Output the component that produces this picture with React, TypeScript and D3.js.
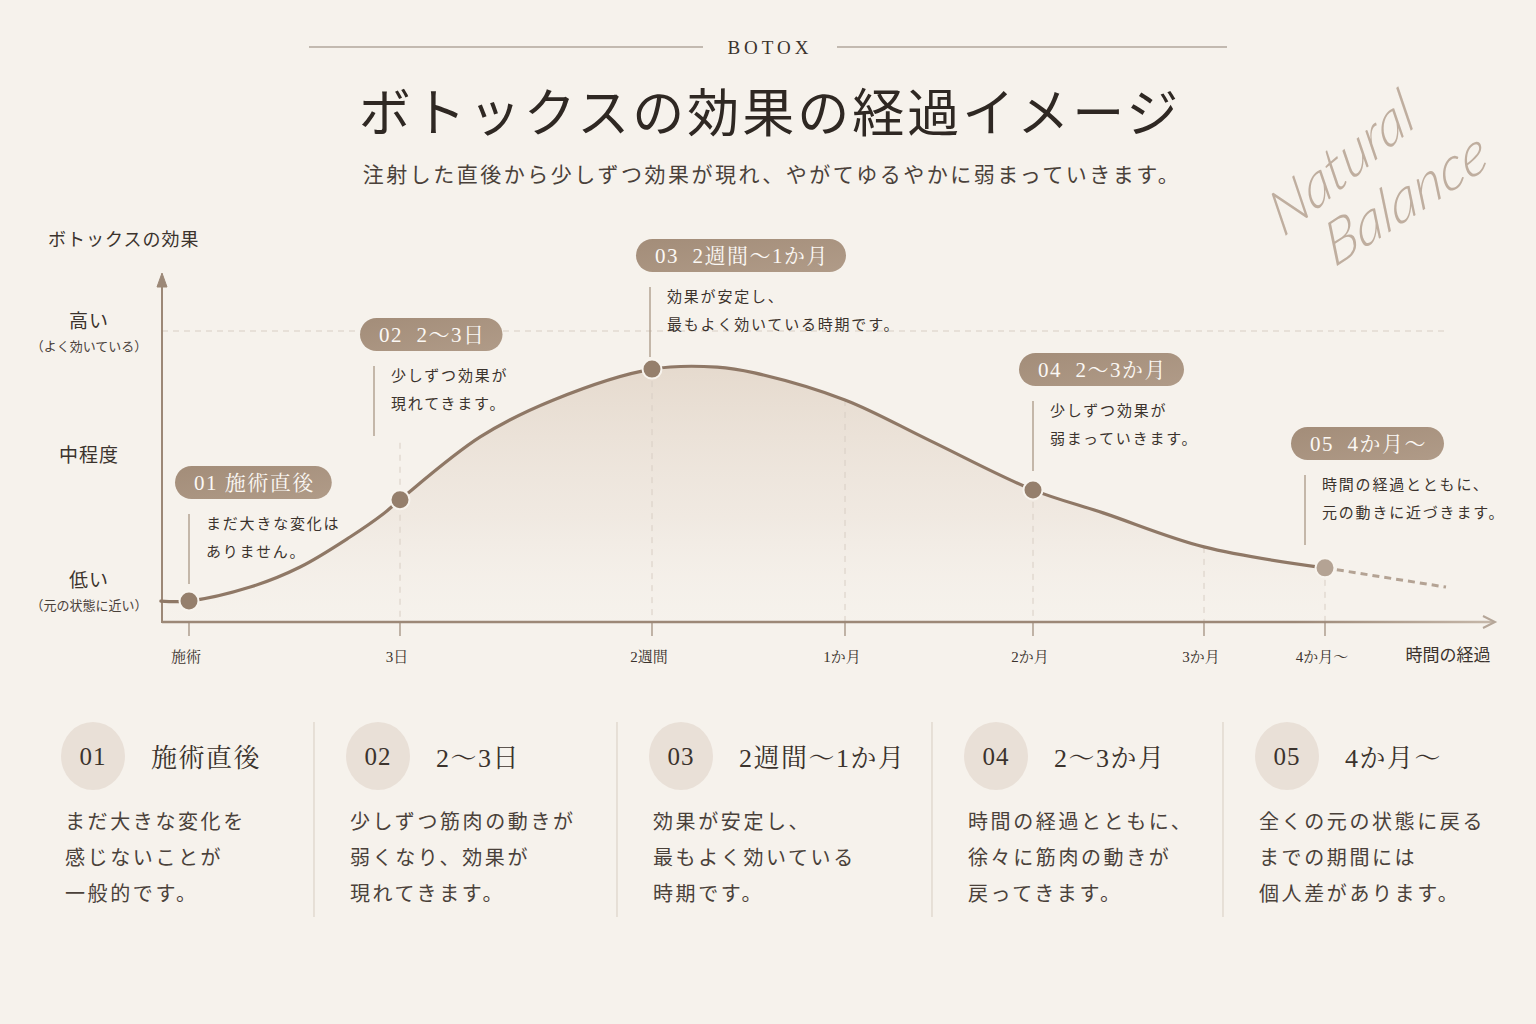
import React, { useEffect, useRef } from "react";
import * as d3 from "d3";

const W = 1536;
const H = 1024;

// ---------- data ----------
const tickDays = [0, 3, 14, 30, 60, 90, 120];
const tickLabels = ["施術", "3日", "2週間", "1か月", "2か月", "3か月", "4か月〜"];

const curveDays = [-0.4, 0, 0.87, 1.58, 2.29, 2.76, 3, 6.5, 9.7, 14, 19.4, 22.5, 30, 43.4, 60, 72.3, 90, 120];
const curveValues = [7.2, 7.2, 12.0, 18.9, 29.2, 37.1, 42.0, 63.6, 76.3, 86.9, 87.6, 85.6, 76.3, 62.5, 45.4, 37.5, 25.8, 18.6];
const tailDays = [120, 150];
const tailValues = [18.6, 12.0];

const stageDays = [0, 3, 14, 60, 120];
const stageNums = ["01", "02", "03", "04", "05"];
const stageTitles = ["施術直後", "2〜3日", "2週間〜1か月", "2〜3か月", "4か月〜"];
const pillLabels = ["01 施術直後", "02  2〜3日", "03  2週間〜1か月", "04  2〜3か月", "05  4か月〜"];
const calloutTexts = [
  ["まだ大きな変化は", "ありません。"],
  ["少しずつ効果が", "現れてきます。"],
  ["効果が安定し、", "最もよく効いている時期です。"],
  ["少しずつ効果が", "弱まっていきます。"],
  ["時間の経過とともに、", "元の動きに近づきます。"],
];
const panelBodies = [
  ["まだ大きな変化を", "感じないことが", "一般的です。"],
  ["少しずつ筋肉の動きが", "弱くなり、効果が", "現れてきます。"],
  ["効果が安定し、", "最もよく効いている", "時期です。"],
  ["時間の経過とともに、", "徐々に筋肉の動きが", "戻ってきます。"],
  ["全くの元の状態に戻る", "までの期間には", "個人差があります。"],
];

const yLevelLabels = ["高い", "中程度", "低い"];
const yLevelSubs = ["（よく効いている）", "", "（元の状態に近い）"];
const yLevelValues = [100, 57.4, 11];

// ---------- layout ----------
const tickX = [189, 400, 652, 845, 1033, 1204, 1325, 1446];
const plotLeft = 162;
const plotRight = 1495;
const plotBottom = 622;
const plotHigh = 331;
const calloutPillTop = [466, 318, 239, 353, 427];
const calloutDx = [0, -26, -2, 0, -20];
const dashExtend = [0, 57, 0, 0, 0, 0, 0];
const panelX = [65, 350, 653, 968, 1259];

const SERIF = "'Liberation Serif','Noto Serif CJK JP','Noto Sans CJK JP',serif";
const CJK = "'Noto Sans CJK JP','Liberation Serif',sans-serif";

const C = {
  bg: "#f6f2ec",
  text: "#3b332d",
  soft: "#4a413a",
  axis: "#9c8877",
  curve: "#8f7866",
  pill: "#a8937f",
  point: "#957f6c",
  pointLight: "#b4a394",
  dash: "#d8cec4",
  callLine: "#b3a393",
  circle: "#e9e0d7",
  divider: "#ddd3c9",
  script: "#bfae9f",
};

export default function App() {
  const ref = useRef<SVGSVGElement>(null);

  useEffect(() => {
    const svg = d3.select(ref.current);
    svg.selectAll("*").remove();

    const x = d3.scaleLinear().domain([...tickDays, 150]).range(tickX);
    const y = d3.scaleLinear().domain([0, 100]).range([plotBottom, plotHigh]);
    const valueAt = d3.scaleLinear().domain(curveDays).range(curveValues);

    const defs = svg.append("defs");
    const ag = defs.append("linearGradient").attr("id", "areaGrad").attr("gradientUnits", "userSpaceOnUse")
      .attr("x1", 0).attr("x2", 0).attr("y1", 360).attr("y2", plotBottom);
    ag.append("stop").attr("offset", 0).attr("stop-color", "#e4d8cb").attr("stop-opacity", 0.95);
    ag.append("stop").attr("offset", 0.6).attr("stop-color", "#ece3da").attr("stop-opacity", 0.6);
    ag.append("stop").attr("offset", 1).attr("stop-color", "#f3eee8").attr("stop-opacity", 0.1);
    const xg = defs.append("linearGradient").attr("id", "xAxisGrad").attr("gradientUnits", "userSpaceOnUse")
      .attr("x1", plotLeft).attr("x2", plotRight).attr("y1", 0).attr("y2", 0);
    xg.append("stop").attr("offset", 0).attr("stop-color", C.axis);
    xg.append("stop").attr("offset", 0.85).attr("stop-color", C.axis);
    xg.append("stop").attr("offset", 1).attr("stop-color", "#c6b8aa");
    const pg = defs.append("linearGradient").attr("id", "pillGrad").attr("x1", 0).attr("x2", 1).attr("y1", 0).attr("y2", 1);
    pg.append("stop").attr("offset", 0).attr("stop-color", "#a38d79");
    pg.append("stop").attr("offset", 1).attr("stop-color", "#b09b88");

    svg.append("rect").attr("width", W).attr("height", H).attr("fill", C.bg);

    // ---------- header ----------
    svg.append("line").attr("x1", 309).attr("x2", 703).attr("y1", 47).attr("y2", 47).attr("stroke", "#8f8175").attr("stroke-width", 1);
    svg.append("line").attr("x1", 837).attr("x2", 1227).attr("y1", 47).attr("y2", 47).attr("stroke", "#8f8175").attr("stroke-width", 1);
    svg.append("text").attr("x", 770).attr("y", 54).attr("text-anchor", "middle").attr("font-family", SERIF)
      .attr("font-size", 19).attr("letter-spacing", 4).attr("fill", C.text).text("BOTOX");
    svg.append("text").attr("x", 770).attr("y", 132).attr("text-anchor", "middle").attr("font-family", CJK)
      .attr("font-size", 52).attr("letter-spacing", 3).attr("fill", "#2f2823").text("ボトックスの効果の経過イメージ");
    svg.append("text").attr("x", 772).attr("y", 182).attr("text-anchor", "middle").attr("font-family", CJK)
      .attr("font-size", 21).attr("letter-spacing", 2.5).attr("fill", C.soft)
      .text("注射した直後から少しずつ効果が現れ、やがてゆるやかに弱まっていきます。");

    // script decoration
    const sg = svg.append("g").attr("font-family", "Lato,'Open Sans',sans-serif")
      .attr("font-style", "italic").attr("font-weight", 300).attr("fill", C.script).attr("font-size", 58);
    sg.append("text").attr("transform", "translate(1283,238) rotate(-40) skewX(-15)").text("Natural");
    sg.append("text").attr("transform", "translate(1334,268) rotate(-33) skewX(-15)").text("Balance");

    // y axis title
    svg.append("text").attr("x", 48).attr("y", 246).attr("font-family", CJK).attr("font-size", 18)
      .attr("letter-spacing", 1).attr("fill", C.text).text("ボトックスの効果");

    // high dashed line
    svg.append("line").attr("x1", plotLeft).attr("x2", 1445).attr("y1", plotHigh).attr("y2", plotHigh)
      .attr("stroke", C.dash).attr("stroke-width", 1).attr("stroke-dasharray", "6 5");

    // area
    const pts = curveDays.map((d, i) => [d, curveValues[i]] as [number, number]);
    const area = d3.area<[number, number]>().x((d) => x(d[0])).y0(plotBottom).y1((d) => y(d[1])).curve(d3.curveCatmullRom.alpha(0.5));
    svg.append("path").attr("d", area(pts)!).attr("fill", "url(#areaGrad)");

    // vertical dashed guides
    tickDays.forEach((d, i) => {
      if (i === 0) return;
      const top = y(valueAt(d)) - dashExtend[i];
      svg.append("line").attr("x1", x(d)).attr("x2", x(d)).attr("y1", top).attr("y2", plotBottom)
        .attr("stroke", C.dash).attr("stroke-width", 1).attr("stroke-dasharray", "6 6");
    });

    // axes
    svg.append("line").attr("x1", plotLeft).attr("x2", plotLeft).attr("y1", plotBottom + 1).attr("y2", 282)
      .attr("stroke", C.axis).attr("stroke-width", 2);
    svg.append("path").attr("d", d3.line()([[plotLeft - 5, 287], [plotLeft, 273], [plotLeft + 5, 287]])! + "Z")
      .attr("fill", C.axis).attr("stroke", C.axis).attr("stroke-width", 1);
    svg.append("line").attr("x1", plotLeft).attr("x2", plotRight - 2).attr("y1", plotBottom).attr("y2", plotBottom)
      .attr("stroke", "url(#xAxisGrad)").attr("stroke-width", 2.5);
    svg.append("path").attr("d", d3.line()([[plotRight - 12, plotBottom - 6], [plotRight, plotBottom], [plotRight - 12, plotBottom + 6]])!)
      .attr("fill", "none").attr("stroke", "#b5a698").attr("stroke-width", 2);

    // ticks + labels
    tickDays.forEach((d, i) => {
      svg.append("line").attr("x1", x(d)).attr("x2", x(d)).attr("y1", plotBottom).attr("y2", plotBottom + 14)
        .attr("stroke", C.axis).attr("stroke-width", 1.2);
      svg.append("text").attr("x", x(d) - 3).attr("y", 662).attr("text-anchor", "middle").attr("font-family", SERIF)
        .attr("font-size", 15).attr("fill", C.text).text(tickLabels[i]);
    });
    svg.append("text").attr("x", 1448).attr("y", 661).attr("text-anchor", "middle").attr("font-family", CJK)
      .attr("font-size", 17).attr("fill", C.text).text("時間の経過");

    // y level labels
    yLevelLabels.forEach((lab, i) => {
      const cy = y(yLevelValues[i]);
      const hasSub = yLevelSubs[i] !== "";
      svg.append("text").attr("x", 89).attr("y", (hasSub ? cy - 10 : cy) + 7).attr("text-anchor", "middle")
        .attr("font-family", CJK).attr("font-size", 19).attr("letter-spacing", 1).attr("fill", C.text).text(lab);
      if (hasSub) {
        svg.append("text").attr("x", 89).attr("y", cy + 20).attr("text-anchor", "middle")
          .attr("font-family", CJK).attr("font-size", 13).attr("fill", C.soft).text(yLevelSubs[i]);
      }
    });

    // curve
    const line = d3.line<[number, number]>().x((d) => x(d[0])).y((d) => y(d[1])).curve(d3.curveCatmullRom.alpha(0.5));
    svg.append("path").attr("d", line(pts)!).attr("fill", "none").attr("stroke", C.curve).attr("stroke-width", 3.2)
      .attr("stroke-linecap", "round");
    const tail = tailDays.map((d, i) => [d, tailValues[i]] as [number, number]);
    svg.append("path").attr("d", d3.line<[number, number]>().x((d) => x(d[0])).y((d) => y(d[1]))(tail)!)
      .attr("fill", "none").attr("stroke", C.pointLight).attr("stroke-width", 3).attr("stroke-dasharray", "7 5");

    // callouts
    stageDays.forEach((d, i) => {
      const lx = x(d) + calloutDx[i];
      const pillTop = calloutPillTop[i];
      const pillLeft = lx - 14;
      const t = svg.append("text").attr("x", pillLeft + 19).attr("y", pillTop + 24).attr("font-family", SERIF)
        .attr("font-size", 21).attr("letter-spacing", 1.5).attr("fill", "#fbf8f4")
        .style("white-space", "pre").attr("xml:space", "preserve").text(pillLabels[i]);
      const tw = (t.node() as SVGTextElement).getComputedTextLength();
      svg.insert("rect", () => t.node() as any).attr("x", pillLeft).attr("y", pillTop).attr("width", tw + 36)
        .attr("height", 33).attr("rx", 16.5).attr("fill", "url(#pillGrad)");
      const lineTop = pillTop + 48;
      svg.append("line").attr("x1", lx).attr("x2", lx).attr("y1", lineTop).attr("y2", lineTop + 70)
        .attr("stroke", C.callLine).attr("stroke-width", 1.5);
      calloutTexts[i].forEach((s, j) => {
        svg.append("text").attr("x", lx + 17).attr("y", lineTop + 15 + j * 27.5).attr("font-family", CJK)
          .attr("font-size", 15).attr("letter-spacing", 1.8).attr("fill", C.text).text(s);
      });
    });

    // points
    stageDays.forEach((d, i) => {
      svg.append("circle").attr("cx", x(d)).attr("cy", y(valueAt(d))).attr("r", 9.5)
        .attr("fill", i === 4 ? C.pointLight : C.point).attr("stroke", "#f8f4ee").attr("stroke-width", 2);
    });

    // bottom panels
    panelX.forEach((px, i) => {
      if (i > 0) {
        svg.append("line").attr("x1", px - 36).attr("x2", px - 36).attr("y1", 722).attr("y2", 917)
          .attr("stroke", C.divider).attr("stroke-width", 1.2);
      }
      const cx = px + 28;
      svg.append("ellipse").attr("cx", cx).attr("cy", 756).attr("rx", 32).attr("ry", 34).attr("fill", C.circle);
      svg.append("text").attr("x", cx).attr("y", 765).attr("text-anchor", "middle").attr("font-family", SERIF)
        .attr("font-size", 25).attr("letter-spacing", 1).attr("fill", C.text).text(stageNums[i]);
      svg.append("text").attr("x", cx + 58).attr("y", 767).attr("font-family", SERIF)
        .attr("font-size", 26).attr("letter-spacing", 1.5).attr("fill", C.text).text(stageTitles[i]);
      panelBodies[i].forEach((s, j) => {
        svg.append("text").attr("x", px).attr("y", 829 + j * 36).attr("font-family", CJK)
          .attr("font-size", 20).attr("letter-spacing", 2.6).attr("fill", C.soft).text(s);
      });
    });
  }, []);

  return (
    <svg ref={ref} width={W} height={H}
      style={{ display: "block", position: "absolute", left: 0, top: 0 }} />
  );
}
